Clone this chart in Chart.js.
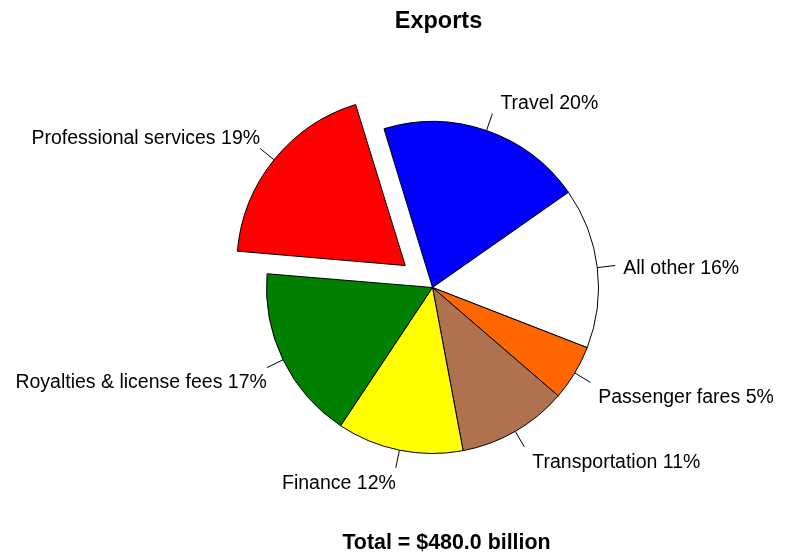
<!DOCTYPE html>
<html>
<head>
<meta charset="utf-8">
<title>Exports</title>
<script src="https://cdn.jsdelivr.net/npm/chart.js@4.4.0/dist/chart.umd.min.js"></script>
<style>
  html, body { margin: 0; padding: 0; background: #ffffff; }
  canvas { display: block; }
</style>
</head>
<body>
<canvas id="exports-chart" width="789" height="557"></canvas>
<script>
// Export categories and values ($ billion), clockwise from the top-left
const categories = ['Travel', 'All other', 'Passenger fares', 'Transportation', 'Finance', 'Royalties & license fees', 'Professional services'];
const values = [96.0, 75.0, 26.0, 51.5, 59.0, 81.5, 91.0];
const sliceColors = ['#0000FF', '#FFFFFF', '#FF6600', '#B0714F', '#FFFF00', '#008000', '#FF0000'];
const exploded = [0, 0, 0, 0, 0, 0, 140]; // chart.js moves a slice by offset / 4

const chartTitle = 'Exports';
const total = values.reduce((a, b) => a + b, 0);
const footerText = 'Total = $' + total.toFixed(1) + ' billion';

const labelFont = '19.5px "Liberation Sans", Arial, sans-serif';

// Draw leader lines, slice labels, title and footer
const pieLabels = {
    id: 'pieLabels',
    afterDatasetsDraw(chart) {
        const ctx = chart.ctx;
        const meta = chart.getDatasetMeta(0);
        ctx.save();
        ctx.strokeStyle = '#000000';
        ctx.fillStyle = '#000000';
        ctx.lineWidth = 1;
        ctx.font = labelFont;
        ctx.textBaseline = 'middle';

        meta.data.forEach((arc, i) => {
            const mid = (arc.startAngle + arc.endAngle) / 2;
            const dx = Math.cos(mid);
            const dy = Math.sin(mid);
            const shift = (arc.options.offset || 0) / 4;
            const circ = arc.endAngle - arc.startAngle;
            const grow = shift * (1 - Math.sin(Math.min(Math.PI, circ)));
            const cx = arc.x + dx * shift;
            const cy = arc.y + dy * shift;
            const r = arc.outerRadius + grow;

            ctx.beginPath();
            ctx.moveTo(cx + dx * r, cy + dy * r);
            const x1 = cx + dx * (r + 18);
            const y1 = cy + dy * (r + 18);
            ctx.lineTo(x1, y1);
            ctx.stroke();

            const right = dx >= 0;
            ctx.textAlign = right ? 'left' : 'right';
            const tx = x1 + (right ? 8 : 0);
            const ty = y1 + 3 + (Math.abs(dy) < 0.2 ? 0 : Math.sign(dy) * 12.5);
            const pct = Math.round(values[i] / total * 100);
            ctx.fillText(categories[i] + ' ' + pct + '%', tx, ty);
        });

        const area = chart.chartArea;
        const midX = (area.left + area.right) / 2;
        ctx.textAlign = 'center';
        ctx.font = 'bold 23.5px "Liberation Sans", Arial, sans-serif';
        ctx.fillText(chartTitle, midX + 6, 22);
        ctx.font = 'bold 21.4px "Liberation Sans", Arial, sans-serif';
        ctx.fillText(footerText, midX + 14, 543.5);
        ctx.restore();
    }
};

const ctx = document.getElementById('exports-chart').getContext('2d');
const exportsChart = new Chart(ctx, {
    type: 'pie',
    data: {
        labels: categories,
        datasets: [{
            data: values,
            backgroundColor: sliceColors,
            borderColor: '#000000',
            borderWidth: 1,
            offset: exploded
        }]
    },
    options: {
        responsive: false,
        animation: false,
        events: [],
        rotation: -17,
        radius: 166,
        layout: {
            padding: { left: 100, right: 24, top: 60, bottom: 42 }
        },
        plugins: {
            legend: { display: false },
            tooltip: { enabled: false },
            title: { display: false }
        }
    },
    plugins: [pieLabels]
});
</script>
</body>
</html>
